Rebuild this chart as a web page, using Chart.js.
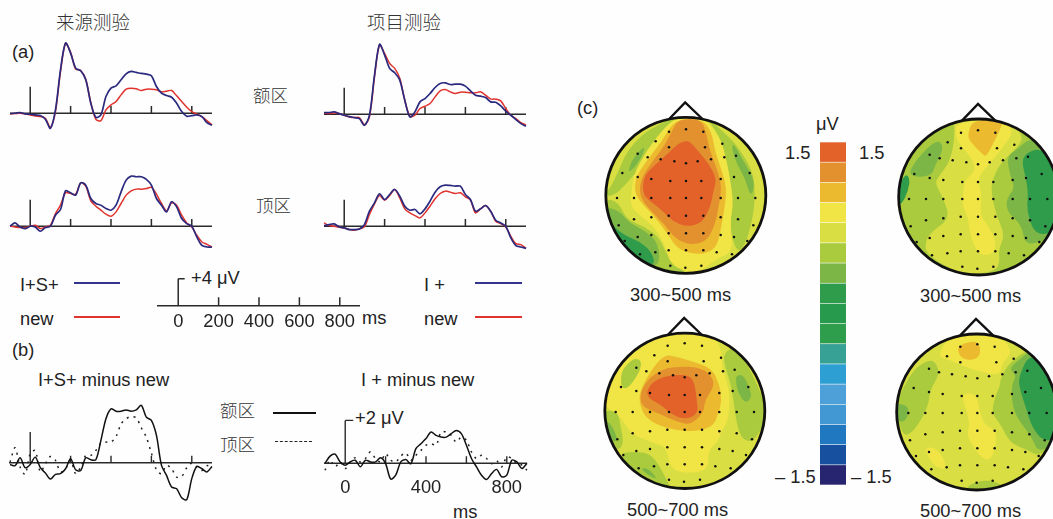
<!DOCTYPE html>
<html><head><meta charset="utf-8">
<script src="https://cdn.jsdelivr.net/npm/chart.js@4"></script>
<style>
html,body{margin:0;padding:0;background:#fff;width:1053px;height:519px;overflow:hidden}
#stage{position:relative;width:1053px;height:519px;overflow:hidden;background:#fefefe}
canvas{position:absolute}
.t{position:absolute;white-space:nowrap;font-family:"Liberation Sans",Arial,sans-serif;font-size:18.3px;color:#222;line-height:1;transform:translateY(-50%)}
.c{font-family:"Noto Sans CJK SC",sans-serif;font-weight:300;color:#333}
.k{position:absolute;height:0;border-top:2px solid #35348c}
</style></head>
<body><div id="stage">
<div class="t c" style="left:56px;top:21px;font-size:18.5px">来源测验</div>
<div class="t c" style="left:367px;top:21px;font-size:18.5px">项目测验</div>
<div class="t" style="left:12px;top:52px">(a)</div>
<div class="t c" style="left:253px;top:95px;font-size:17.5px">额区</div>
<div class="t c" style="left:256px;top:205px;font-size:17.5px">顶区</div>
<div class="t" style="left:20px;top:285px">I+S+</div>
<div class="t" style="left:20px;top:319px">new</div>
<div class="t" style="left:424px;top:285px">I +</div>
<div class="t" style="left:424px;top:319px">new</div>
<div class="k" style="left:74px;top:282px;width:46px"></div>
<div class="k" style="left:74px;top:316px;width:46px;border-color:#e0332e"></div>
<div class="k" style="left:475px;top:282px;width:47px"></div>
<div class="k" style="left:475px;top:316px;width:47px;border-color:#e0332e"></div>
<div class="t" style="left:191px;top:278px">+4 μV</div>
<div class="t" style="left:362px;top:318px">ms</div>
<div class="t" style="left:12px;top:350px">(b)</div>
<div class="t" style="left:38px;top:380px">I+S+ minus new</div>
<div class="t" style="left:361px;top:380px">I + minus new</div>
<div class="t c" style="left:220px;top:410px;font-size:17.5px">额区</div>
<div class="t c" style="left:220px;top:444px;font-size:17.5px">顶区</div>
<div class="k" style="left:273px;top:412px;width:43px;border-color:#111"></div>
<div class="k" style="left:275px;top:441px;width:37px;border-top:1.5px dashed #222"></div>
<div class="t" style="left:355px;top:418px">+2 μV</div>
<div class="t" style="left:453px;top:512px">ms</div>
<div class="t" style="left:577px;top:108px">(c)</div>
<div class="t" style="left:816px;top:124px">μV</div>
<div class="t" style="left:785px;top:153px">1.5</div>
<div class="t" style="left:859px;top:153px">1.5</div>
<div class="t" style="left:775px;top:477px">– 1.5</div>
<div class="t" style="left:851px;top:477px">– 1.5</div>
<div class="t" style="left:630px;top:295px">300~500 ms</div>
<div class="t" style="left:627px;top:510px">500~700 ms</div>
<div class="t" style="left:920px;top:296px">300~500 ms</div>
<div class="t" style="left:920px;top:511px">500~700 ms</div>
</div>
<script>
// ---------- data: ERP waveforms (ms, µV) ----------
const times=[-100,-75,-50,-25,0,25,50,75,100,125,150,175,200,225,250,275,300,325,350,375,400,425,450,475,500,525,550,575,600,625,650,675,700,725,750,775,800,825,850,875,900];
const srcFrontalOld=[-0.05,0,0.1,-0.1,-0.15,-0.25,-0.35,-0.9,-2.25,0.5,6.5,10.5,9,6.75,6.35,5,1.5,-0.6,-0.25,2.5,3.75,4.1,5,5.9,6.25,6.1,5.95,5.85,5.6,4,3,2.65,2.4,1.5,0.25,-0.45,-0.35,-0.25,-0.5,-1.4,-1.8];
const srcFrontalNew=[-0.1,-0.05,0,-0.1,-0.25,-0.4,-0.5,-0.75,-2.1,0.25,6.25,10.4,9.1,6.6,6.4,5.1,1.6,-0.9,-1.1,0.5,1.25,1.75,2.75,3.6,3.75,3.65,3.4,3.6,3.6,3.5,3.2,3.3,3.4,2.6,1.75,0.9,0.25,-0.1,-0.5,-1.1,-1.75];
const itemFrontalOld=[0.25,0.25,0.35,0.1,-0.15,-0.35,-0.5,-0.65,-1.65,-0.15,5.85,10.45,8.85,6.85,6.2,5.1,2.1,-0.4,0.35,1.85,2.35,3.1,4,4.6,4.7,4.45,4.5,4.5,4.2,3.5,2.85,2.7,2.5,1.85,1.8,1.25,0.45,-0.15,-0.8,-1.4,-1.8];
const itemFrontalNew=[0.2,0.1,0.2,0.1,-0.15,-0.4,-0.5,-0.5,-1.55,-0.4,5.6,10.35,9.1,7.6,6.85,5.4,2.1,-0.3,-0.15,0.85,1.2,1.6,2.6,3.5,3.7,3.35,3.1,3.3,3.3,3.2,3.2,3.35,2.85,2.3,2.25,2,0.85,-0.15,-0.65,-1.25,-1.6];
const srcParietalOld=[0,0.5,-0.1,-0.35,0,-0.1,-0.75,-0.2,0,1.65,2.5,5.3,5,4.65,6.5,6.15,4.15,3.4,3.15,2.65,2.4,3.15,5.15,6.9,7.5,7.4,7.4,7,6.15,4.15,3.15,2.15,3.65,2.9,1.15,0.4,0,-1.6,-2.85,-3.1,-3.1];
const srcParietalNew=[0,-0.1,-0.2,-0.2,0,0.15,-0.35,-0.1,0.15,1.9,3.15,5,4.9,4.8,6.5,6,3.8,3,2.4,1.8,1.5,2.15,3.4,4.65,5.3,5.55,5.55,5.65,5.8,4.8,3.4,2.3,3.5,3.15,1.65,0.5,-0.1,-1.35,-2.35,-2.7,-3.1];
const itemParietalOld=[0.1,0.25,0.35,-0.1,-0.25,-0.5,-0.5,-0.4,0.25,2.25,3.5,4.85,4,4.75,5.5,4.5,3,2.4,2.5,1.85,2.6,3.75,5.1,5.9,6.15,6.1,6,6,4.75,4,2.25,2.6,3.1,2.25,0.9,0.5,0,-1.75,-2.9,-3.1,-3.3];
const itemParietalNew=[0.5,0.1,0,-0.15,-0.25,-0.5,-0.6,-0.4,-0.1,1.75,3.35,4.6,3.9,4.6,5.5,4.25,2.6,2,1.6,1.25,2,3,4.1,4.9,5.25,5.1,4.9,5,4.4,3.9,2,2.6,3.1,2.25,0.75,0.4,-0.1,-1.5,-2.6,-2.75,-3.3];
const diffSrcFrontal=[-0.08,-0.14,0.23,-0.23,-0.08,0.26,-0.23,-0.48,-0.76,-0.54,-0.51,-0.28,0.19,-0.33,-0.36,0.23,0.14,0.14,1.04,2.05,2.51,2.40,2.40,2.46,2.40,2.46,2.67,2.12,1.97,1.27,-0.12,-0.59,-1.13,-1.21,-1.63,-1.72,-0.74,-0.17,-0.28,-0.43,-0.17];
const diffSrcParietal=[0.03,0.70,-0.20,-0.54,0.42,0.57,-0.43,-0.05,0.29,0.11,-0.43,-0.28,0.11,-0.51,-0.20,0.34,0.34,0.57,0.91,0.96,0.96,1.22,1.81,2.05,2.15,2.09,1.63,1.19,0.45,-0.33,-0.51,-0.12,-0.28,-0.67,-0.64,-0.23,-0.02,-0.20,-0.36,-0.14,-0.17];
const diffItemFrontal=[0,0.33,0.42,0.06,-0.09,0.06,0.14,-0.17,0.14,0.06,0.06,0.26,-0.02,-0.74,-0.56,0.06,0.17,-0.02,0.68,0.91,1.15,1.46,1.30,1.22,1.22,1.38,1.53,1.38,0.84,0.22,-0.17,-0.56,-0.76,-0.48,-0.29,-0.64,-0.56,0.14,0.06,-0.25,0];
const diffItemParietal=[-0.33,0.14,-0.17,0.06,-0.25,0.06,0.26,0.06,0.22,0.53,0.22,0.06,0.45,0.14,0.06,0.33,0.48,0.14,0.37,0.60,0.84,0.91,0.84,1.46,1.46,1.30,0.99,1.22,1.07,0.53,0.22,0.37,0.22,-0.02,0.11,-0.17,0.29,0.22,-0.02,-0.09,-0.33];
const erpTicks=[200,400,600,800];
const scaleTicks=[0,200,400,600,800];
const diffTicks=[0,400,800];

// ---------- data: colour scale ----------
const levelValues=["1.5","1.3","1.1","0.9","0.75","0.55","0.4","0.2","0","-0.2","-0.4","-0.55","-0.75","-0.9","-1.1","-1.3","-1.5"];
const levelColors=["#e2622a","#e3902f","#ecba2e","#f0e545","#d9de42","#aacb3e","#7cb646","#2f9c4c","#279a4d","#2e9d4c","#37a195","#2e9fd2","#4ea0d8","#4298d3","#1f78c0","#17509f","#272570"];

// ---------- data: scalp map contours, as [level, x,y, x,y ...] in head-plane units ----------
const electrodes=[[237,110],[288,103],[340,110],[197,139],[397,146],[345,157],[237,157],[143,176],[173,187],[438,182],[403,187],[363,193],[212,193],[253,199],[288,205],[323,199],[97,234],[143,246],[184,252],[241,258],[288,258],[334,258],[392,252],[432,246],[479,234],[81,309],[132,309],[184,309],[241,309],[288,309],[334,309],[392,309],[444,309],[496,309],[132,373],[184,367],[236,362],[288,362],[340,362],[392,367],[444,373],[86,391],[490,391],[143,426],[184,420],[236,415],[288,415],[340,415],[392,420],[432,426],[104,438],[472,438],[150,478],[196,472],[236,466],[288,466],[340,466],[380,472],[426,478],[241,512],[286,518],[334,512]];
const noseShape=[[-50,-229],[-2,-279],[50,-229]];
const mapA=[
[5, 262,60,205,90,160,115,110,170,85,230,60,280,40,305,75,300,110,265,130,240,165,205,195,150,240,90],
[6, 115,230,125,195,165,150,160,175,140,210,122,228],
[5, 40,310,85,320,110,375,165,395,210,430,230,480,285,525,280,550,150,510,60,420],
[6, 40,335,85,345,120,385,170,410,205,445,210,515,150,510,60,420],
[7, 50,375,100,420,150,440,185,470,197,515,130,490,70,430],
[5, 345,60,410,120,440,150,490,230,495,300,490,360,470,440,445,475,425,430,420,380,430,330,420,260,410,200,395,140,372,100],
[6, 425,145,440,160,455,190,492,250,490,290,480,300,465,250,445,215,430,180],
[3, 230,90,170,165,130,240,125,290,120,340,190,390,225,450,240,505,285,530,330,530,380,490,430,470,420,380,430,320,420,250,410,200,395,140,370,100,340,70,260,70],
[2, 255,72,335,72,365,110,375,170,395,225,410,280,405,330,395,390,385,440,370,465,330,480,265,465,235,420,210,385,170,340,135,300,135,250,175,190,215,140],
[1, 265,72,335,72,350,120,360,170,385,230,395,280,385,340,375,390,350,440,300,450,255,430,225,390,195,360,150,310,150,255,190,195,225,150,245,110],
[0, 285,138,300,140,330,175,355,205,380,250,370,290,360,340,335,385,290,395,250,380,220,350,190,325,158,300,160,245,195,210,240,170,265,145]
];
const mapC=[
[3, 130,130,200,80,300,60,370,75,395,120,395,170,410,210,420,260,415,330,395,365,380,400,355,420,355,480,300,490,240,480,230,410,190,400,120,370,100,330,60,295,35,285,60,220,90,160],
[5, 100,175,130,145,155,150,150,185,115,235,95,235,92,200],
[5, 400,135,425,110,465,150,495,210,530,290,525,340,490,395,460,390,445,360,435,310,425,230,405,170],
[6, 440,195,460,195,480,235,485,265,465,280,445,250,437,215],
[5, 30,300,85,305,90,345,100,385,95,415,70,420,40,360],
[6, 30,330,60,335,85,390,70,395,50,385],
[5, 90,430,130,425,180,430,210,470,225,500,245,540,170,515,110,460],
[6, 150,475,175,475,205,510,175,495],
[2, 225,135,250,138,310,155,365,175,390,225,395,275,385,310,370,350,310,365,255,360,200,345,160,315,145,265,160,220,195,165],
[1, 215,180,250,170,320,170,360,190,375,225,345,270,340,310,300,345,260,335,205,310,155,290,150,250,175,205],
[0, 195,210,240,195,300,195,315,225,320,270,325,310,285,330,240,310,215,285,175,265,170,240]
];
const mapB=[
[4, 205,60,210,125,195,200,160,245,150,265,175,310,195,370,140,410,120,440,125,480,230,540,330,530,345,500,340,465,360,420,335,365,320,300,320,260,345,205,400,155,415,125,375,70],
[3, 215,80,360,70,385,110,360,150,310,210,285,240,280,260,290,300,285,360,305,385,335,440,325,480,280,480,255,420,250,370,232,330,232,300,240,255,270,230,265,195,225,150,210,120],
[2, 265,75,355,75,345,105,305,185,295,180,250,135,250,110],
[6, 70,245,85,205,135,150,165,135,175,165,150,210,140,245],
[7, 30,300,60,235,75,250,70,285,50,330,28,325],
[6, 365,185,400,160,440,125,510,180,530,300,520,420,470,440,420,450,410,390,365,350,365,310,390,280,375,240],
[7, 410,195,430,170,470,160,520,215,530,400,480,420,445,410,425,345,430,290,420,240]
];
const mapD=[
[5, 150,155,165,190,135,240,130,290,90,360,60,380,45,350,25,300,55,230,90,175,130,150],
[6, 25,280,70,285,70,320,50,340,30,320],
[5, 345,210,370,160,440,110,510,190,530,300,510,400,460,440,430,420,375,400,345,340,320,310,330,260,345,230],
[6, 370,175,420,135,440,115,520,210,525,390,460,430,440,380,385,310,378,230,395,195],
[7, 400,200,440,120,525,220,525,385,475,395,440,350,425,300,405,240],
[5, 240,535,270,515,330,510,370,545,270,560],
[3, 155,140,200,70,340,70,385,125,350,160,345,200,250,175,195,150],
[2, 215,115,235,100,280,92,288,130,270,150,230,148],
[3, 230,250,275,250,285,310,300,345,330,360,335,395,320,450,290,445,265,410,245,375,255,340,240,290],
[3, 120,415,145,410,175,440,185,480,150,470,130,440]
];

// ---------- helpers ----------
const stage=document.getElementById('stage');
Chart.defaults.animation=false;
function canvasAt(l,t,w,h){const c=document.createElement('canvas');c.style.left=l+'px';c.style.top=t+'px';c.style.width=w+'px';c.style.height=h+'px';c.width=w;c.height=h;stage.appendChild(c);return c;}
const ser=(vals)=>vals.map((v,i)=>({x:times[i],y:v}));
function marks(tMin,tMax,ticks,tickH,barH){
  const p=[{x:tMin,y:0},{x:tMax,y:0},{x:0,y:null}];
  ticks.forEach(t=>{p.push({x:t,y:0},{x:t,y:tickH},{x:t,y:null});});
  p.push({x:0,y:0},{x:0,y:barH});
  return p;
}
function plot(o){
  const left=Math.round(o.x0+o.tMin*o.sx), top=Math.round(o.y0-o.vMax*o.sy);
  const w=Math.round((o.tMax-o.tMin)*o.sx), h=Math.round((o.vMax-o.vMin)*o.sy);
  const xs={type:'linear',min:o.tMin,max:o.tMax,display:false};
  if(o.labels){Object.assign(xs,{display:true,position:{y:0},grid:{display:false},border:{display:false},
     afterBuildTicks:s=>{s.ticks=o.labels.map(v=>({value:v}));},afterFit:s=>{s.height=0;},
     ticks:{autoSkip:false,maxRotation:0,padding:o.pad,color:'#222',font:{family:'"Liberation Sans"',size:18.3}}});}
  new Chart(canvasAt(left,top,w,h),{type:'scatter',data:{datasets:o.series.concat([{data:o.marks,showLine:true,pointRadius:0,borderColor:'#2a2a2a',borderWidth:o.axisW||1.5,spanGaps:false,tension:0,clip:false}])},
    options:{responsive:false,maintainAspectRatio:false,layout:{padding:0,autoPadding:false},plugins:{legend:{display:false},tooltip:{enabled:false}},
      scales:{x:xs,y:{type:'linear',min:o.vMin,max:o.vMax,display:false}}}});
}
const line=(vals,col,w,dash)=>({data:ser(vals),showLine:true,pointRadius:0,borderColor:col,borderWidth:w,tension:0.3,clip:false,borderDash:dash||[]});
const BLUE='#2b2a7f',RED='#e0332e';

// ---------- panel (a) ----------
const erp=(x0,y0,a,b)=>plot({x0,y0,sx:0.2015,sy:6.7,tMin:-110,tMax:910,vMin:-4,vMax:12,marks:marks(-100,900,erpTicks,1.1,3.95),series:[line(a,BLUE,1.7),line(b,RED,1.5)]});
erp(30.3,113.5,srcFrontalOld,srcFrontalNew);
erp(344.3,114,itemFrontalOld,itemFrontalNew);
erp(30.3,226,srcParietalOld,srcParietalNew);
erp(344.3,226.7,itemParietalOld,itemParietalNew);
// time/voltage scale bar
plot({x0:178.3,y0:305.3,sx:0.2015,sy:6.7,tMin:-110,tMax:910,vMin:-6,vMax:5,labels:scaleTicks,pad:-3,series:[],
  marks:marks(-105,900,erpTicks,1.25,4).concat([{x:0,y:null},{x:0,y:4},{x:32,y:4}])});

// ---------- panel (b) ----------
plot({x0:30,y0:462.3,sx:0.2015,sy:21.5,tMin:-110,tMax:910,vMin:-2.2,vMax:3.2,axisW:1.4,marks:marks(-105,900,[200,400,600,800],0.33,1.43),
  series:[line(diffSrcFrontal,'#111',1.5),line(diffSrcParietal,'#222',1.5,[2,5])]});
plot({x0:344.7,y0:463,sx:0.2015,sy:21.5,tMin:-110,tMax:910,vMin:-2,vMax:2.3,axisW:1.4,labels:diffTicks,pad:6,
  marks:marks(-105,900,[200,400,600,800],0.33,2).concat([{x:0,y:null},{x:0,y:2},{x:40,y:2}]),
  series:[line(diffItemFrontal,'#111',1.5),line(diffItemParietal,'#222',1.5,[2,5])]});

// ---------- panel (c): colour bar ----------
new Chart(canvasAt(820,142,26,343),{type:'bar',data:{labels:levelValues,datasets:[{data:levelValues.map(()=>1),backgroundColor:levelColors,barPercentage:0.97,categoryPercentage:1}]},
  options:{indexAxis:'y',responsive:false,maintainAspectRatio:false,layout:{padding:0,autoPadding:false},plugins:{legend:{display:false},tooltip:{enabled:false}},
    scales:{x:{display:false,min:0,max:1},y:{display:false}}}});

// ---------- panel (c): scalp maps ----------
const headPlugin={id:'head',
  beforeDatasetsDraw(ch){
    const {ctx,scales:{x,y}}=ch, h=ch.options.plugins.head;
    const px=u=>x.getPixelForValue(u), py=v=>y.getPixelForValue(v);
    ctx.save();ctx.beginPath();
    ctx.ellipse(px(h.cx),py(h.cy),Math.abs(px(h.cx+h.rx)-px(h.cx)),Math.abs(py(h.cy+h.ry)-py(h.cy)),0,0,Math.PI*2);
    ctx.fillStyle=levelColors[h.base];ctx.fill();ctx.clip();
    ch.data.datasets.forEach(d=>{
      if(d.level===undefined)return;
      const p=d.data.map(q=>[px(q.x),py(q.y)]),n=p.length;
      ctx.beginPath();
      ctx.moveTo((p[n-1][0]+p[0][0])/2,(p[n-1][1]+p[0][1])/2);
      for(let i=0;i<n;i++){const a=p[i],b=p[(i+1)%n];ctx.quadraticCurveTo(a[0],a[1],(a[0]+b[0])/2,(a[1]+b[1])/2);}
      ctx.closePath();ctx.fillStyle=levelColors[d.level];ctx.fill();
    });
    ctx.restore();
  },
  afterDatasetsDraw(ch){
    const {ctx,scales:{x,y}}=ch, h=ch.options.plugins.head;
    const px=u=>x.getPixelForValue(u), py=v=>y.getPixelForValue(v);
    ctx.save();ctx.beginPath();
    ctx.ellipse(px(h.cx),py(h.cy),Math.abs(px(h.cx+h.rx)-px(h.cx)),Math.abs(py(h.cy+h.ry)-py(h.cy)),0,0,Math.PI*2);
    ctx.lineWidth=2.8;ctx.strokeStyle='#111';ctx.stroke();ctx.restore();
  }
};
function scalp(o){
  const ds=o.layers.map(l=>{const pts=[];for(let i=1;i<l.length;i+=2)pts.push({x:l[i],y:l[i+1]});return {level:l[0],data:pts,showLine:false,pointRadius:0};});
  const dots={data:electrodes.map(e=>({x:e[0]+o.dx,y:e[1]+o.dy})),showLine:false,pointRadius:1.25,backgroundColor:'#111',borderWidth:0};
  const nose={data:noseShape.map(e=>({x:e[0]+o.cx,y:e[1]+o.cy})),showLine:true,pointRadius:0,borderColor:'#111',borderWidth:2.4,tension:0};
  new Chart(canvasAt(o.l,o.t,o.w,o.h),{type:'scatter',data:{datasets:[dots,nose].concat(ds)},plugins:[headPlugin],
    options:{responsive:false,maintainAspectRatio:false,layout:{padding:0,autoPadding:false},
      plugins:{legend:{display:false},tooltip:{enabled:false},head:{cx:o.cx,cy:o.cy,rx:240,ry:o.ry,base:o.base}},
      scales:{x:{type:'linear',min:0,max:o.w*3,display:false},y:{type:'linear',reverse:true,min:0,max:o.h*3,display:false}}}});
}
scalp({l:590,t:95,w:190,h:215,cx:287.5,cy:301,ry:234,base:4,dx:0,dy:0,layers:mapA});
scalp({l:590,t:310,w:190,h:209,cx:284.5,cy:302.5,ry:233,base:4,dx:-4,dy:-3,layers:mapC});
scalp({l:885,t:95,w:168,h:215,cx:281,cy:306,ry:234,base:5,dx:-9,dy:3,layers:mapB});
scalp({l:885,t:310,w:168,h:209,cx:275,cy:306,ry:234,base:4,dx:-11,dy:0,layers:mapD});
</script>
</body></html>
